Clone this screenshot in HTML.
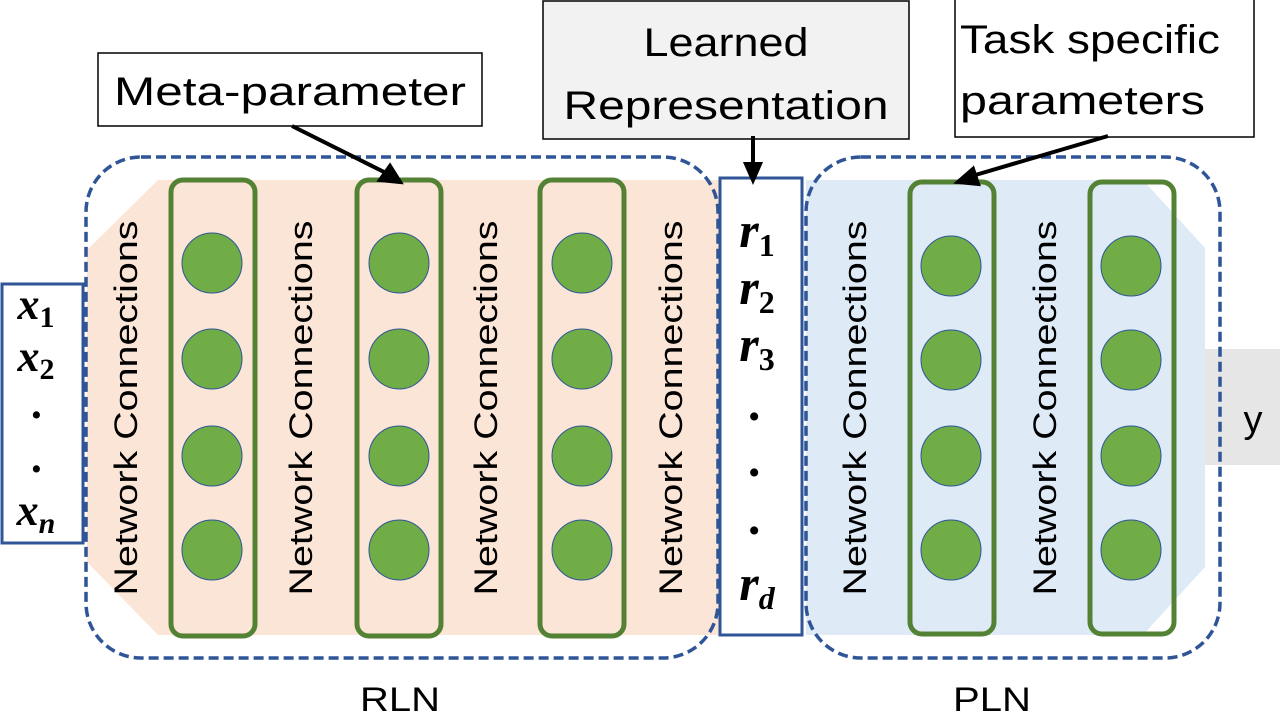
<!DOCTYPE html>
<html><head><meta charset="utf-8"><style>html,body{margin:0;padding:0;background:#fff;}svg{display:block}</style></head>
<body>
<svg width="1280" height="720" viewBox="0 0 1280 720" xmlns="http://www.w3.org/2000/svg" font-family="Liberation Sans, sans-serif">
<polygon points="87,250 158,180 722,180 722,635 158,635 87,562" fill="#fbe5d6"/>
<polygon points="806,180 1143,180 1205,248 1205,567 1143,635 806,635" fill="#deebf7"/>
<rect x="1205" y="349" width="75" height="116" fill="#e6e6e6"/>
<text x="1253" y="432" font-size="38" text-anchor="middle">y</text>
<rect x="86" y="157" width="632" height="501" rx="55" fill="none" stroke="#2f5597" stroke-width="3.5" stroke-dasharray="10,5"/>
<rect x="806" y="157" width="414" height="501" rx="55" fill="none" stroke="#2f5597" stroke-width="3.5" stroke-dasharray="10,5"/>
<rect x="2" y="284" width="81" height="259" fill="#fff" stroke="#2f5597" stroke-width="3"/>
<g font-family="Liberation Serif, serif" font-weight="bold" font-style="italic" font-size="44" text-anchor="middle">
<text x="36" y="319">x<tspan font-size="30" dy="8" font-style="normal">1</tspan></text>
<text x="36" y="371">x<tspan font-size="30" dy="8" font-style="normal">2</tspan></text>
<text x="38" y="418">.</text>
<text x="38" y="472">.</text>
<text x="36" y="525">x<tspan font-size="30" dy="8">n</tspan></text>
</g>
<rect x="720" y="178" width="82" height="457" fill="#fff" stroke="#2f5597" stroke-width="3"/>
<g font-family="Liberation Serif, serif" font-weight="bold" font-style="italic" font-size="50" text-anchor="middle">
<text x="757" y="247">r<tspan font-size="32" dy="9" font-style="normal">1</tspan></text>
<text x="757" y="304">r<tspan font-size="32" dy="9" font-style="normal">2</tspan></text>
<text x="757" y="361">r<tspan font-size="32" dy="9" font-style="normal">3</tspan></text>
<text x="756" y="420">.</text>
<text x="756" y="476">.</text>
<text x="756" y="534">.</text>
<text x="757" y="600">r<tspan font-size="32" dy="9">d</tspan></text>
</g>
<g font-size="32" text-anchor="middle">
<text transform="translate(137,408) rotate(-90)" textLength="375" lengthAdjust="spacingAndGlyphs">Network Connections</text>
<text transform="translate(312,408) rotate(-90)" textLength="375" lengthAdjust="spacingAndGlyphs">Network Connections</text>
<text transform="translate(497,408) rotate(-90)" textLength="375" lengthAdjust="spacingAndGlyphs">Network Connections</text>
<text transform="translate(682,408) rotate(-90)" textLength="375" lengthAdjust="spacingAndGlyphs">Network Connections</text>
<text transform="translate(866,408) rotate(-90)" textLength="375" lengthAdjust="spacingAndGlyphs">Network Connections</text>
<text transform="translate(1056,408) rotate(-90)" textLength="375" lengthAdjust="spacingAndGlyphs">Network Connections</text>
</g>
<g fill="none" stroke="#548235" stroke-width="5">
<rect x="171" y="180" width="84" height="456" rx="12"/>
<rect x="357" y="180" width="84" height="456" rx="12"/>
<rect x="540" y="180" width="84" height="456" rx="12"/>
<rect x="910" y="182" width="84" height="452" rx="12"/>
<rect x="1090" y="182" width="84" height="452" rx="12"/>
</g>
<g fill="#70ad47" stroke="#2f5597" stroke-width="1">
<circle cx="212" cy="263" r="30"/><circle cx="212" cy="359" r="30"/><circle cx="212" cy="456" r="30"/><circle cx="212" cy="550" r="30"/>
<circle cx="399" cy="263" r="30"/><circle cx="399" cy="359" r="30"/><circle cx="399" cy="456" r="30"/><circle cx="399" cy="550" r="30"/>
<circle cx="582" cy="263" r="30"/><circle cx="582" cy="359" r="30"/><circle cx="582" cy="456" r="30"/><circle cx="582" cy="550" r="30"/>
<circle cx="951" cy="266" r="30"/><circle cx="951" cy="360" r="30"/><circle cx="951" cy="456" r="30"/><circle cx="951" cy="550" r="30"/>
<circle cx="1131" cy="266" r="30"/><circle cx="1131" cy="360" r="30"/><circle cx="1131" cy="456" r="30"/><circle cx="1131" cy="550" r="30"/>
</g>
<rect x="98" y="53" width="384" height="73" fill="#fff" stroke="#000" stroke-width="1.5"/>
<text x="290" y="105" font-size="40" text-anchor="middle" textLength="352" lengthAdjust="spacingAndGlyphs">Meta-parameter</text>
<rect x="543" y="1" width="366" height="138" fill="#f2f2f2" stroke="#000" stroke-width="1.5"/>
<text x="726" y="56" font-size="40" text-anchor="middle" textLength="165" lengthAdjust="spacingAndGlyphs">Learned</text>
<text x="726" y="119" font-size="40" text-anchor="middle" textLength="325" lengthAdjust="spacingAndGlyphs">Representation</text>
<rect x="955" y="-2" width="299" height="139" fill="#fff" stroke="#000" stroke-width="1.5"/>
<text x="960" y="53" font-size="40" textLength="260" lengthAdjust="spacingAndGlyphs">Task specific</text>
<text x="960" y="114" font-size="40" textLength="245" lengthAdjust="spacingAndGlyphs">parameters</text>
<g stroke="#000" stroke-width="4" fill="#000">
<line x1="292" y1="126" x2="388" y2="174"/>
<polygon points="400,182 380,180 390,166"/>
<line x1="753" y1="136" x2="753" y2="166"/>
<polygon points="753,180 746,164 760,164"/>
<line x1="1108" y1="136" x2="972" y2="176"/>
<polygon points="958,182 973,169 978,184"/>
</g>
<text x="400" y="711" font-size="34" text-anchor="middle" textLength="80" lengthAdjust="spacingAndGlyphs">RLN</text>
<text x="992" y="711" font-size="34" text-anchor="middle" textLength="78" lengthAdjust="spacingAndGlyphs">PLN</text>
</svg>
</body></html>
